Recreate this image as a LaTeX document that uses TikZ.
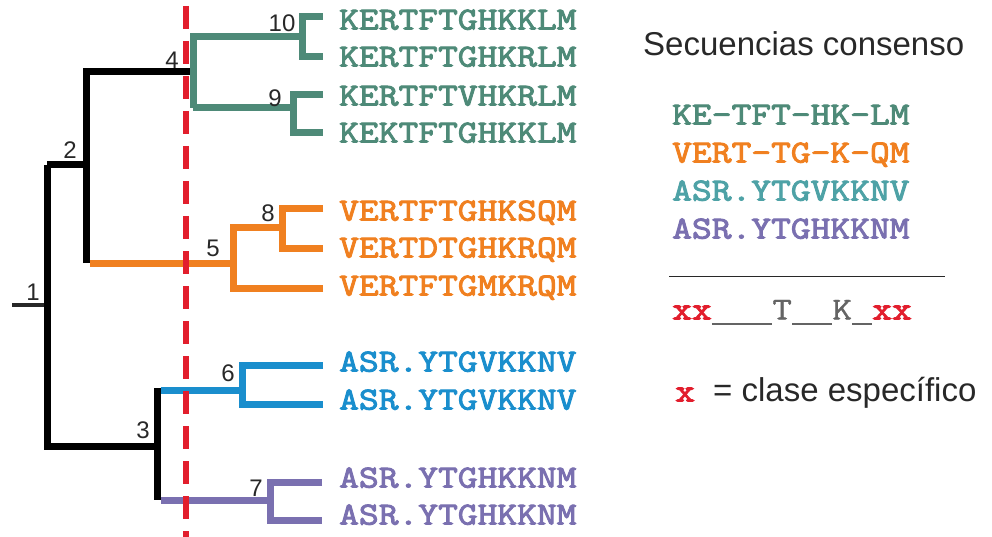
\documentclass[tikz,border=0pt]{standalone}
\usepackage{fontspec}
\setmainfont{Liberation Sans}
\newfontfamily\seqfont[FakeStretch=1.2, FakeBold=3]{Latin Modern Mono}
\newfontfamily\seqthin[FakeStretch=1.2, FakeBold=1.2]{Latin Modern Mono}
\definecolor{cteal}{RGB}{78,138,120}
\definecolor{corange}{RGB}{240,128,32}
\definecolor{cblue}{RGB}{26,142,205}
\definecolor{cpurple}{RGB}{122,112,176}
\definecolor{cred}{RGB}{226,30,45}
\definecolor{ccyan}{RGB}{78,162,166}
\definecolor{cgray}{RGB}{100,100,100}
\definecolor{ctext}{RGB}{40,40,40}
\newcommand{\gapline}[1]{\rule[-5pt]{#1}{2pt}}
\begin{document}
\begin{tikzpicture}[x=1pt,y=-1pt,
  branch/.style={line width=7pt},
  lbl/.style={font=\fontsize{24}{24}\selectfont, text=ctext, inner sep=0pt},
  seq/.style={font=\fontsize{32}{32}\selectfont\seqfont, inner sep=0pt, anchor=base west},
  sans/.style={font=\fontsize{33}{33}\selectfont, text=ctext, inner sep=0pt, anchor=base west}]
\useasboundingbox (0,0) rectangle (992,537);
% tree node coordinates
\coordinate (r0) at (12,305);
\coordinate (n1) at (47,305);
\coordinate (n1t) at (47,165);
\coordinate (n1b) at (47,446);
\coordinate (n2t) at (86,72);
\coordinate (n2b) at (86,263);
\coordinate (n2) at (86,165);
\coordinate (n3) at (157,446);
\coordinate (n3t) at (157,388);
\coordinate (n3b) at (157,500);
\coordinate (n4) at (193,72);
\coordinate (n4t) at (193,37);
\coordinate (n4b) at (193,108);
\coordinate (n5) at (233,263);
\coordinate (n8) at (282,228);
\coordinate (n9) at (293,108);
\coordinate (n10) at (302,37);
\coordinate (n6) at (242,390);
\coordinate (n7) at (270,500);
% leaf ends
\coordinate (l1) at (323,17);  \coordinate (l2) at (323,57);
\coordinate (l3) at (323,95);  \coordinate (l4) at (323,133);
\coordinate (l5) at (323,209); \coordinate (l6) at (323,248);
\coordinate (l7) at (323,288);
\coordinate (l8) at (323,365); \coordinate (l9) at (323,404);
\coordinate (l10) at (322,482); \coordinate (l11) at (322,520);

% root stub
\draw[line width=3.5pt, ctext] (r0) -- (n1);
% black part
\draw[branch, black] (n1t) -- (n1b) -- (n3);
\draw[branch, black] (n1t) -- (n2);
\draw[branch, black] (n2t |- n2b) -- (n2t) -- (n4);
\draw[branch, black] (n3t) -- (n3b);
% teal
\draw[branch, cteal] (n4b) -- (n4t) -- (n10) -- (l1 -| n10) -- (l1);
\draw[branch, cteal] (n10) -- (l2 -| n10) -- (l2);
\draw[branch, cteal] (n4b) -- (n9);
\draw[branch, cteal] (l3) -- (l3 -| n9) -- (l4 -| n9) -- (l4);
% orange
\draw[branch, corange] ([xshift=3.5pt]n2b) -- (n5);
\draw[branch, corange] (l7) -- (l7 -| n5) -- (n8 -| n5) -- (n8);
\draw[branch, corange] (l5) -- (l5 -| n8) -- (l6 -| n8) -- (l6);
% blue
\draw[branch, cblue] ([xshift=3.5pt]n3t |- n6) -- (n6);
\draw[branch, cblue] (l8) -- (l8 -| n6) -- (l9 -| n6) -- (l9);
% purple
\draw[branch, cpurple] ([xshift=3.5pt]n3b) -- (n7);
\draw[branch, cpurple] (l10) -- (l10 -| n7) -- (l11 -| n7) -- (l11);
% red dashed cut
\coordinate (cutT) at (186,6);
\coordinate (cutB) at (186,537);
\draw[cred, line width=6pt, dash pattern=on 23pt off 12pt] (cutT) -- (cutB);

% node labels
\node[lbl] (t1) at (33,292) {1};
\node[lbl] (t2) at (70,150) {2};
\node[lbl] (t3) at (143,430) {3};
\node[lbl] (t4) at (172,60) {4};
\node[lbl] (t5) at (213,248) {5};
\node[lbl] (t6) at (228,373) {6};
\node[lbl] (t7) at (256,488) {7};
\node[lbl] (t8) at (268,213) {8};
\node[lbl] (t9) at (275,98) {9};
\node[lbl] (t10) at (282,23) {10};

% sequences
\node[seq, text=cteal] (s1) at (339,29.5) {KERTFTGHKKLM};
\node[seq, text=cteal] (s2) at (339,66.5) {KERTFTGHKRLM};
\node[seq, text=cteal] (s3) at (339,105.5) {KERTFTVHKRLM};
\node[seq, text=cteal] (s4) at (339,142.5) {KEKTFTGHKKLM};
\node[seq, text=corange] (s5) at (339,220.5) {VERTFTGHKSQM};
\node[seq, text=corange] (s6) at (339,257.5) {VERTDTGHKRQM};
\node[seq, text=corange] (s7) at (339,295.5) {VERTFTGMKRQM};
\node[seq, text=cblue] (s8) at (339,371.5) {ASR.YTGVKKNV};
\node[seq, text=cblue] (s9) at (339,409.5) {ASR.YTGVKKNV};
\node[seq, text=cpurple] (s10) at (339,487.5) {ASR.YTGHKKNM};
\node[seq, text=cpurple] (s11) at (339,524.5) {ASR.YTGHKKNM};

% right panel
\node[sans] (title) at (643,56) {Secuencias consenso};
\node[seq, text=cteal] (c1) at (672,124.5) {KE-TFT-HK-LM};
\node[seq, text=corange] (c2) at (672,162.5) {VERT-TG-K-QM};
\node[seq, text=ccyan] (c3) at (672,200.5) {ASR.YTGVKKNV};
\node[seq, text=cpurple] (c4) at (672,238.5) {ASR.YTGHKKNM};
\coordinate (hl) at (669,276);
\coordinate (hr) at (945,276);
\draw[line width=1pt, ctext] (hl) -- (hr);
\node[seq, text=cgray] (pat) at (672,319.5) {\textcolor{cred}{xx}{\seqthin\gapline{60.5pt}T\gapline{40.3pt}K\gapline{20.2pt}}\textcolor{cred}{xx}};
\node[seq, text=cred] (xk) at (675,401.5) {x};
\node[sans] (legend) at (713,401.5) {= clase específico};
\end{tikzpicture}
\end{document}
